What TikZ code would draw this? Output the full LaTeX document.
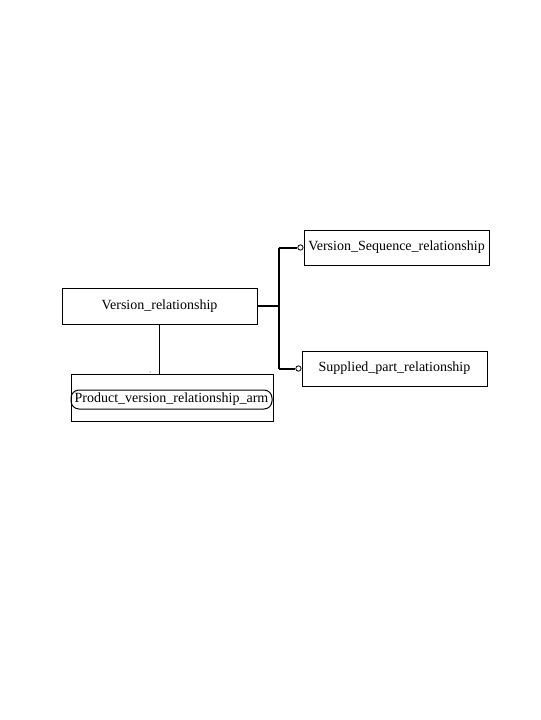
\documentclass[tikz,border=0pt]{standalone}
\usepackage{fontspec}
\setmainfont{Liberation Serif}
\usetikzlibrary{positioning}
\tikzstyle{entity} = [rectangle, draw=black, line width=0.75pt, inner sep=0pt, font=\fontsize{10.5pt}{12pt}\selectfont]
\tikzstyle{armbox} = [rectangle, rounded corners=6pt, draw=black, line width=0.75pt, inner sep=0pt, minimum width=150.75pt, minimum height=14.25pt, font=\fontsize{10.5pt}{12pt}\selectfont]
\tikzstyle{ring} = [circle, draw=black, fill=white, line width=0.6pt, inner sep=0pt, minimum size=4pt]
\tikzstyle{thickline} = [line width=1.5pt]
\tikzstyle{thinline} = [line width=0.75pt]

\begin{document}
\begin{tikzpicture}[x=0.75pt,y=-0.75pt]
\useasboundingbox (0,0) rectangle (540,720);
\node (ver) [entity, minimum width=146.25pt, minimum height=27pt] at (159.5,306) {Version\_relationship};
\node (vs) [entity, minimum width=138.75pt, minimum height=26.25pt] at (396.5,247.5) {Version\_Sequence\_relationship};
\node (sp) [entity, minimum width=138.75pt, minimum height=26.25pt] at (394.5,368.5) {Supplied\_part\_relationship};
\node (prod) [entity, minimum width=151.5pt, minimum height=35.25pt] at (172,397.5) {};
\node (arm) [armbox] at (171.5,399.5) {Product\_version\_relationship\_arm};
\node (vsring) [ring, left=0pt of vs] {};
\node (spring) [ring, left=0pt of sp] {};
%connectors
\draw[thinline] (ver.south) -- (ver.south |- prod.north);
\fill (150,372) circle (0.5);
\draw[thickline] (ver.east) -- ++(21,0) coordinate (fork);
\draw[thickline] (fork |- vsring.west) -- (vsring.west);
\draw[thickline] (fork |- spring.west) -- (spring.west);
\draw[thickline] (fork |- vsring.west) -- (fork |- spring.west);
\end{tikzpicture}
\end{document}
